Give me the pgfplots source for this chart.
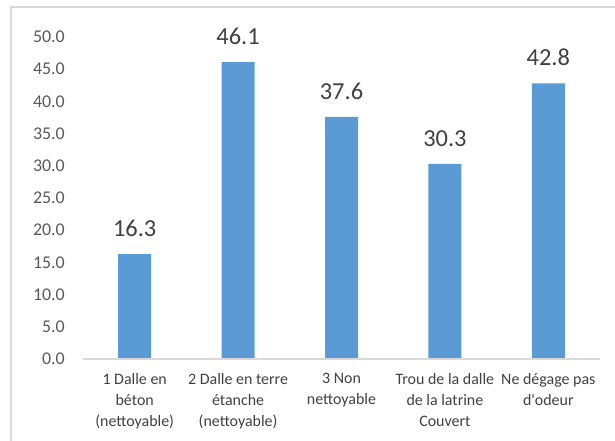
\documentclass[border=0pt]{standalone}
\usepackage{fontspec}
\setmainfont{Carlito}
\usepackage{pgfplots}
\pgfplotsset{compat=1.18}
\definecolor{barblue}{HTML}{5B9BD5}
\definecolor{framegray}{HTML}{D9D9D9}
\definecolor{ticktext}{HTML}{595959}
\definecolor{labeltext}{HTML}{404040}
\begin{document}
\begin{tikzpicture}[x=1bp,y=1bp]
\useasboundingbox (0,0) rectangle (615,441);
% chart frame (left and top edges)
\draw[framegray, line width=1.5bp] (11,0) -- (11,434) -- (615,434);
\begin{axis}[
  at={(83bp,82bp)}, anchor=south west,
  scale only axis, width=517bp, height=322bp,
  ymin=0, ymax=50, xmin=-0.5, xmax=4.5,
  clip=false,
  axis line style={draw=none},
  major tick length=0pt,
  ybar, bar width=33bp,
  ytick={0,5,...,50},
  yticklabel style={
    font=\fontsize{18}{21}\selectfont, text=ticktext,
    anchor=east, inner sep=0pt, xshift=-18bp,
    /pgf/number format/fixed,
    /pgf/number format/fixed zerofill,
    /pgf/number format/precision=1,
    /pgf/number format/assume math mode=true},
  xtick=data,
  xticklabels={
    {1 Dalle en\\béton\\(nettoyable)},
    {2 Dalle en terre\\étanche\\(nettoyable)},
    {3 Non\\nettoyable},
    {Trou de la dalle\\de la latrine\\Couvert},
    {Ne dégage pas\\d\textquotesingle odeur}},
  xticklabel style={
    font=\fontsize{16}{21}\selectfont, text=labeltext,
    align=center, anchor=north, inner sep=0pt, yshift=-14bp},
  nodes near coords,
  nodes near coords style={
    font=\fontsize{24.5}{28}\selectfont, text=labeltext,
    anchor=south, inner sep=0pt, yshift=17bp,
    /pgf/number format/fixed,
    /pgf/number format/fixed zerofill,
    /pgf/number format/precision=1,
    /pgf/number format/assume math mode=true},
]
\addplot[fill=barblue, draw=none] coordinates {
  (0,16.3) (1,46.1) (2,37.6) (3,30.3) (4,42.8)};
\draw[framegray, line width=1.2bp] (axis cs:-0.5,0) -- (axis cs:4.5,0);
\end{axis}
\end{tikzpicture}
\end{document}
